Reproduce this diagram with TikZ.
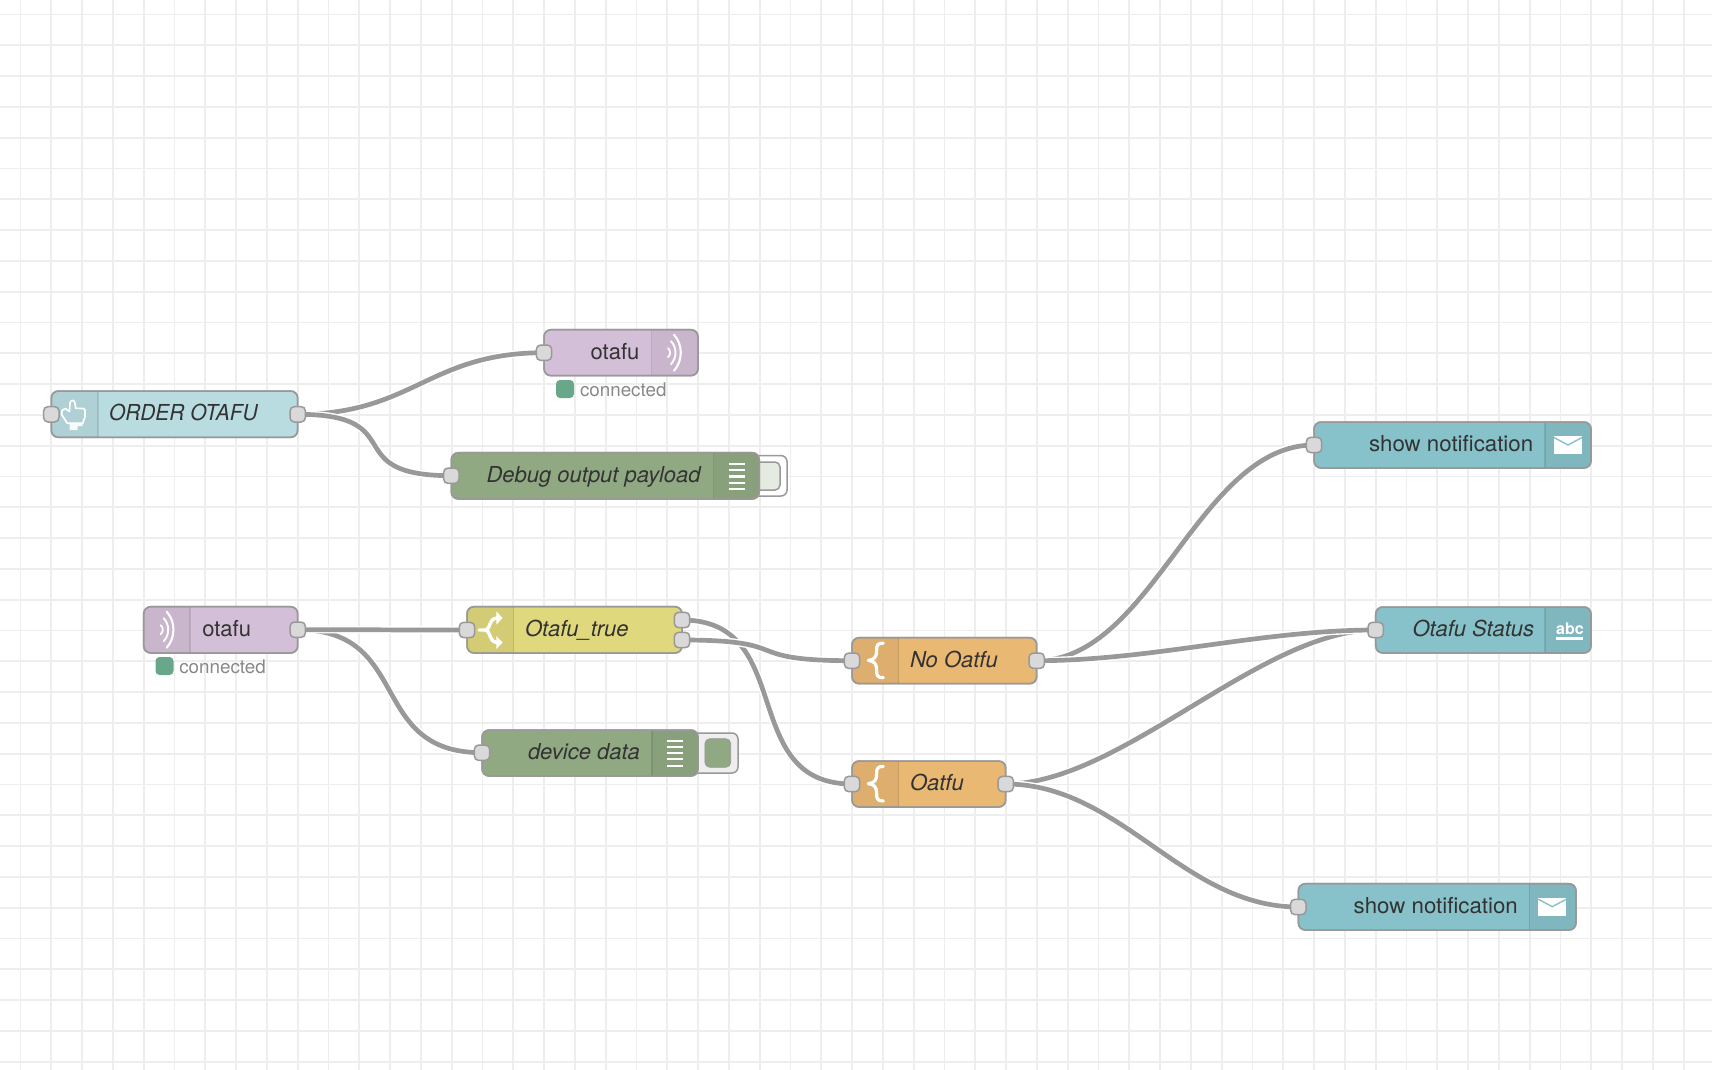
\documentclass[tikz,border=0pt]{standalone}
\usepackage{fontspec}
\setmainfont{TeX Gyre Heros}
\pgfdeclarelayer{under}
\pgfsetlayers{under,main}
\definecolor{gridc}{HTML}{EEEEEE}
\definecolor{wirec}{HTML}{999999}
\definecolor{portc}{HTML}{D9D9D9}
\definecolor{txtc}{HTML}{333333}
\definecolor{stc}{HTML}{888888}
\definecolor{okc}{HTML}{69A78A}
\definecolor{cinject}{HTML}{B9DCE1}
\definecolor{cmqtt}{HTML}{D4BFD8}
\definecolor{cdebug}{HTML}{90A983}
\definecolor{cswitch}{HTML}{E0D87C}
\definecolor{cfunc}{HTML}{E9B873}
\definecolor{cteal}{HTML}{87C1C9}
\definecolor{cbtn}{HTML}{E6EBE1}
\tikzset{
  basebox/.style={draw=wirec,line width=.75pt,rounded corners=3.5pt,inner sep=0pt,outer sep=0pt,rectangle},
  wireport/.style={draw=wirec,fill=portc,line width=.75pt,rounded corners=2.2pt,inner sep=0pt,outer sep=0pt,minimum width=7.7pt,minimum height=7.7pt,rectangle},
  wire/.style={draw=white,double=wirec,line width=.7pt,double distance=2.35pt},
  lbl/.style={anchor=base west,inner sep=0pt,outer sep=0pt,text=txtc,font=\fontsize{11}{13}\selectfont},
  ilbl/.style={lbl,font=\fontsize{11}{13}\selectfont\itshape},
  stlbl/.style={anchor=base west,inner sep=0pt,outer sep=0pt,text=stc,font=\fontsize{9.4}{11}\selectfont},
  stdot/.style={fill=okc,draw=none,rounded corners=2pt,inner sep=0pt,outer sep=0pt,minimum width=9pt,minimum height=9pt,rectangle},
}
\newcommand{\flowbox}[8]{%
  \node[basebox,fill=#8,minimum width={(#4-#2)*.5pt},minimum height={(#5-#3)*.5pt}] (#1) at ({(#2+#4)/2},{(#3+#5)/2}) {};
  \begin{scope}
    \clip[rounded corners=3.5pt] (#2,#3) rectangle (#4,#5);
    \fill[black,opacity=.05] (#6,#3) rectangle (#7,#5);
    \draw[black,opacity=.1,line width=.75pt] (#6,#3) -- (#6,#5);
  \end{scope}
  \draw[wirec,line width=.75pt,rounded corners=3.5pt] (#2,#3) rectangle (#4,#5);
}
\newcommand{\wsport}[3]{\node[wireport] (#1) at (#2,#3) {};}
\newcommand{\waves}[2]{%
  \begin{scope}[shift={(#1,#2)}]
    \draw[white,line width=1.05pt,line cap=round] (0,-18) .. controls (9,-8) and (9,8) .. (0,18);
    \draw[white,line width=.95pt,line cap=round] (-3,-11.5) .. controls (3,-5) and (3,5) .. (-3,11.5);
    \draw[white,line width=.9pt,line cap=round] (-6,-4.5) .. controls (-3.2,-2) and (-3.2,2) .. (-6,4.5);
  \end{scope}}
\newcommand{\listicon}[2]{%
  \foreach \d in {0,6.2,12.4,18.6,25} {\draw[white,line width=1.1pt] (#1,#2+\d) -- ++(15.8,0);}}
\newcommand{\bracei}[2]{%
  \draw[white,line width=1.6pt,line cap=round,line join=round] (#1+15,#2-17.3) .. controls (#1+9,#2-17.3) and (#1+8.3,#2-15) .. (#1+8.3,#2-10) .. controls (#1+8.3,#2-3) and (#1+6,#2-.8) .. (#1,#2) .. controls (#1+6,#2+.8) and (#1+8.3,#2+3) .. (#1+8.3,#2+10) .. controls (#1+8.3,#2+15) and (#1+9,#2+17.3) .. (#1+15,#2+17.3);}
\newcommand{\envelope}[2]{%
  \fill[white] (#1,#2) rectangle ++(28,18.3);
  \draw[cteal,line width=.7pt] (#1,#2+1.5) -- (#1+14,#2+9) -- (#1+28,#2+1.5);}
\begin{document}
\begin{tikzpicture}[x=.5pt,y=-.5pt]
\useasboundingbox (0,0) rectangle (1712,1070);
\begin{pgfonlayer}{under}
  \fill[white] (0,0) rectangle (1712,1070);
  \foreach \k in {0,...,55} {\draw[gridc,line width=.85pt] ({20.5+30.8*\k},0) -- ({20.5+30.8*\k},1070);}
  \foreach \k in {0,...,34} {\draw[gridc,line width=.85pt] (0,{14.5+30.8*\k}) -- (1712,{14.5+30.8*\k});}
\end{pgfonlayer}

% debug side buttons
\node[basebox,fill=white,minimum width=25pt,minimum height=20.2pt,rounded corners=3pt] (dbgbtn) at (762,475.8) {};
\node[basebox,fill=cbtn,minimum width=14pt,minimum height=14pt,rounded corners=2.5pt] (dbgbtnin) at (766,476) {};
\node[basebox,fill=gridc,minimum width=24pt,minimum height=20pt,rounded corners=3pt] (devbtn) at (714,753) {};
\node[basebox,fill=cdebug,draw=wirec,line width=.4pt,minimum width=12.9pt,minimum height=14.3pt,rounded corners=2.5pt] (devbtnin) at (717.8,753) {};

% nodes
\flowbox{inject}{51.3}{391}{297.7}{437.3}{98}{51.3}{cinject}
\flowbox{mqttout}{544}{329.7}{698}{375.7}{651.7}{698}{cmqtt}
\flowbox{dbgout}{451.3}{452.7}{759.3}{499}{713.7}{759.3}{cdebug}
\flowbox{mqttin}{143.7}{606.7}{297.7}{653}{190}{143.7}{cmqtt}
\flowbox{switch}{467}{606.7}{682}{653}{513.7}{467}{cswitch}
\flowbox{devdbg}{482}{730}{698}{776}{652}{698}{cdebug}
\flowbox{noatfu}{852}{637.7}{1036.7}{683.7}{898.7}{852}{cfunc}
\flowbox{oatfu}{852}{761}{1005.7}{807}{898.7}{852}{cfunc}
\flowbox{notifa}{1314}{422}{1591}{468}{1545}{1591}{cteal}
\flowbox{status}{1375.7}{607}{1591}{653}{1545}{1591}{cteal}
\flowbox{notifb}{1298.3}{883.7}{1576}{930}{1529.3}{1576}{cteal}

% labels
\node[ilbl] (tinject) at (109,420) {\scalebox{.95}[1]{ORDER OTAFU}};
\node[lbl] (tmqttout) at (590.7,359.3) {otafu};
\node[ilbl] (tdbg) at (486.5,482) {Debug output payload};
\node[lbl] (tmqttin) at (202.3,636.5) {otafu};
\node[ilbl] (tswitch) at (525,636.5) {Otafu\_true};
\node[ilbl] (tdev) at (528,759.5) {device data};
\node[ilbl] (tno) at (910,667.5) {No Oatfu};
\node[ilbl] (toat) at (910,790) {Oatfu};
\node[lbl] (tna) at (1369,451.5) {\scalebox{1.012}[1]{show notification}};
\node[ilbl] (tst) at (1412.5,636) {Otafu Status};
\node[lbl] (tnb) at (1353.7,913.5) {\scalebox{1.012}[1]{show notification}};

% status
\node[stdot] (sa) at (565,389) {};
\node[stlbl] (sat) at (580,396) {connected};
\node[stdot] (sb) at (164.5,666) {};
\node[stlbl] (sbt) at (179.3,673.5) {connected};

% icons
\draw[white,line width=.85pt,line join=round] (67.3,423.3) -- (61.7,414.5) .. controls (61,411) and (63,408.3) .. (65.5,408.5) -- (69.5,411.7) -- (70,403.3) .. controls (70,399.5) and (75,399.5) .. (75,403.3) -- (75.7,408.3) -- (83,408.5) .. controls (85,408.7) and (85,410) .. (85,411) -- (85,416.7) -- (82.7,423.3) -- cycle;
\fill[white,opacity=.9] (69.5,423.3) -- (82.7,423.3) -- (82.7,426) -- (77.5,426) -- (77.5,430) -- (69.5,430) -- cycle;
\waves{674}{352.7}
\waves{166.7}{629.7}
\listicon{728.7}{464}
\listicon{667}{740.7}
\draw[white,line width=1.7pt,line cap=round,line join=round] (479,630) -- (485.3,630) .. controls (488,630) and (489,627) .. (490,624) .. controls (491,621) and (492.5,618.5) .. (497,618);
\draw[white,line width=1.7pt,line cap=round,line join=round] (485.3,630) .. controls (488,630) and (489,633) .. (490,636) .. controls (491,639) and (492.5,642) .. (497,642.5);
\fill[white] (496.3,611.3) -- (502.5,618) -- (496.3,624.7) -- cycle;
\fill[white] (496.3,636) -- (502.5,642.5) -- (496.3,649) -- cycle;
\bracei{868.3}{660.4}
\bracei{868.3}{783.7}
\envelope{1554}{436}
\envelope{1538.3}{897.7}
\node[anchor=base west,inner sep=0pt,text=white,font=\fontsize{8}{9}\selectfont\bfseries] (abc) at (1555.7,634.3) {abc};
\fill[white] (1555.7,637.3) rectangle (1583.3,639.6);

% ports
\wsport{pio}{297.7}{414.3}
\wsport{pii}{51.3}{414.3}
\wsport{pmoi}{544}{352.7}
\wsport{pdi}{451.3}{475.7}
\wsport{pmio}{297.7}{629.7}
\wsport{psi}{467}{630}
\wsport{pso}{682}{620}
\wsport{pst}{682}{640}
\wsport{pvi}{482}{752.7}
\wsport{pni}{852}{660.7}
\wsport{pno}{1036.7}{660.7}
\wsport{poi}{852}{784}
\wsport{poo}{1005.7}{784}
\wsport{pna}{1314}{445}
\wsport{psti}{1375.7}{630}
\wsport{pnb}{1298.3}{907}

% wires
\begin{pgfonlayer}{under}
\draw[wire] (pio.center) .. controls +(115.5,0) and +(-115.5,0) .. (pmoi.center);
\draw[wire] (pio.center) .. controls +(115.5,0) and +(-115.5,0) .. (pdi.center);
\draw[wire] (pmio.center) .. controls +(115.5,0) and +(-115.5,0) .. (pvi.center);
\draw[wire] (pmio.center) .. controls +(115.5,0) and +(-115.5,0) .. (psi.center);
\draw[wire] (pso.center) .. controls +(115.5,0) and +(-115.5,0) .. (poi.center);
\draw[wire] (pst.center) .. controls +(115.5,0) and +(-115.5,0) .. (pni.center);
\draw[wire] (pno.center) .. controls +(115.5,0) and +(-115.5,0) .. (pna.center);
\draw[wire] (poo.center) .. controls +(115.5,0) and +(-115.5,0) .. (psti.center);
\draw[wire] (pno.center) .. controls +(115.5,0) and +(-115.5,0) .. (psti.center);
\draw[wire] (poo.center) .. controls +(115.5,0) and +(-115.5,0) .. (pnb.center);
\end{pgfonlayer}
\end{tikzpicture}
\end{document}
